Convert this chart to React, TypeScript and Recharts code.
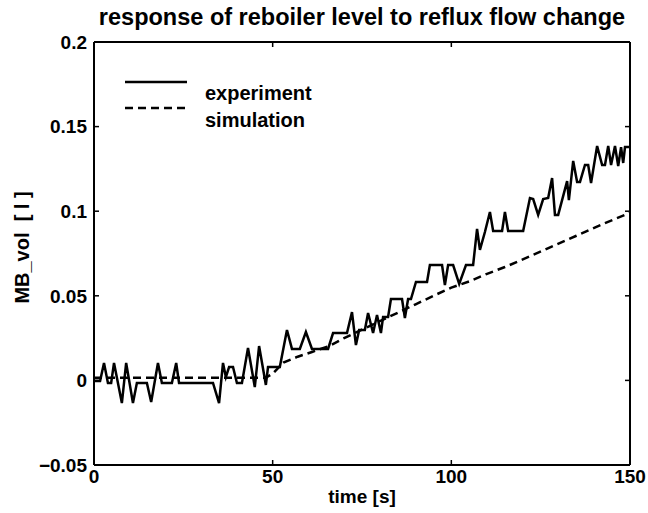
import React from 'react';
import { LineChart, Line, XAxis, YAxis } from 'recharts';

const expTimes = [0, 1.7, 2.8, 3.9, 4.8, 5.6, 7.8, 9.0, 10.9, 12.0, 14.8, 16.0, 17.9, 19.0, 21.8, 23.0, 23.8, 33.3, 35.0, 36.1, 36.9, 37.8, 38.9, 40.0, 41.4, 43.1, 45.0, 46.2, 48.1, 48.7, 52.0, 54.0, 55.4, 57.6, 59.3, 61.0, 65.5, 66.9, 70.8, 72.2, 73.3, 74.2, 75.8, 76.7, 78.1, 79.2, 80.3, 80.9, 82.3, 83.1, 86.2, 87.0, 87.9, 88.7, 90.1, 93.2, 94.0, 97.4, 98.2, 99.1, 100.5, 102.2, 104.1, 106.1, 107.2, 108.0, 109.4, 110.8, 111.7, 114.2, 115.0, 115.9, 120.1, 122.0, 122.9, 124.3, 125.7, 127.1, 128.2, 129.0, 129.9, 132.4, 132.9, 134.1, 135.2, 136.0, 137.4, 138.3, 139.1, 140.8, 142.2, 143.0, 143.9, 144.7, 145.8, 146.7, 147.5, 148.1, 148.6, 150];
const expValues = [-0.0004, -0.0004, 0.0103, -0.0015, -0.0015, 0.0103, -0.0134, 0.0103, -0.0134, -0.0015, -0.0015, -0.0128, 0.0103, -0.0015, -0.0015, 0.0103, -0.0015, -0.0015, -0.0134, 0.0103, 0.002, 0.0079, 0.0079, -0.0015, -0.0015, 0.0191, -0.0039, 0.0203, -0.0027, 0.0079, 0.0079, 0.0298, 0.0186, 0.0186, 0.0286, 0.0186, 0.0186, 0.028, 0.028, 0.0404, 0.0209, 0.0298, 0.0298, 0.0398, 0.028, 0.0387, 0.028, 0.0375, 0.0375, 0.0481, 0.0481, 0.0369, 0.0481, 0.0481, 0.0582, 0.0582, 0.0682, 0.0682, 0.0564, 0.0682, 0.0682, 0.057, 0.0682, 0.0682, 0.0895, 0.0771, 0.0877, 0.0995, 0.0883, 0.0883, 0.0995, 0.0883, 0.0883, 0.1078, 0.1072, 0.0978, 0.1072, 0.1078, 0.1196, 0.0978, 0.0978, 0.1178, 0.1066, 0.1297, 0.1173, 0.1173, 0.1273, 0.1273, 0.1167, 0.1385, 0.1273, 0.1273, 0.1385, 0.1273, 0.1385, 0.1267, 0.1379, 0.1285, 0.1379, 0.1379];

const simTimes = [0, 48, 50, 53, 57, 61, 66, 70, 75, 80, 85, 90, 95, 100, 105, 110, 115, 120, 127, 135, 143, 150];
const simValues = [0.0015, 0.0015, 0.004, 0.0105, 0.014, 0.0168, 0.0205, 0.025, 0.030, 0.035, 0.040, 0.045, 0.050, 0.0548, 0.0585, 0.063, 0.067, 0.0715, 0.078, 0.0855, 0.093, 0.099];

const xTicks = [0, 50, 100, 150];
const yTicks = [-0.05, 0, 0.05, 0.1, 0.15, 0.2];
const yTickLabels = ['\u22120.05', '0', '0.05', '0.1', '0.15', '0.2'];

const titleText = 'response of reboiler level to reflux flow change';
const xLabelText = 'time [s]';
const yLabelText = 'MB_vol\u00a0\u00a0[ l ]';
const seriesNames = ['experiment', 'simulation'];

const expData = expTimes.map((t, i) => ({ t, v: expValues[i] }));
const simData = simTimes.map((t, i) => ({ t, v: simValues[i] }));

const FONT = '"Liberation Sans", Arial, Helvetica, sans-serif';
const tickStyle = { fill: '#000', fontSize: 19, fontWeight: 700, fontFamily: FONT };

const fmtY = (v: number) => {
  const idx = yTicks.findIndex((y) => Math.abs(y - v) < 1e-9);
  return idx >= 0 ? yTickLabels[idx] : String(v);
};

export default function App() {
  return (
    <div style={{ position: 'absolute', left: 0, top: 0, width: 648, height: 513, background: '#fff' }}>
      <LineChart width={648} height={513} margin={{ top: 41, right: 17, bottom: 0, left: 0 }}>
        <XAxis
          xAxisId="b"
          dataKey="t"
          type="number"
          domain={[0, 150]}
          ticks={xTicks}
          allowDataOverflow
          height={48}
          axisLine={{ stroke: '#000', strokeWidth: 2 }}
          tickLine={{ stroke: '#000', strokeWidth: 1.5 }}
          tickSize={-5}
          tickMargin={10}
          tick={tickStyle}
          interval={0}
          label={{
            content: (p: any) => {
              const vb = p.viewBox || { x: 94, y: 465, width: 536, height: 48 };
              return (
                <text x={vb.x + vb.width / 2} y={vb.y + 38} textAnchor="middle" fill="#000"
                  style={{ fontSize: 19, fontWeight: 700, fontFamily: FONT }}>
                  {xLabelText}
                </text>
              );
            },
          }}
        />
        <XAxis
          xAxisId="t"
          orientation="top"
          type="number"
          dataKey="t"
          domain={[0, 150]}
          ticks={xTicks}
          allowDataOverflow
          height={1}
          axisLine={{ stroke: '#000', strokeWidth: 2 }}
          tickLine={{ stroke: '#000', strokeWidth: 1.5 }}
          tickSize={-5}
          tickFormatter={() => ''}
          interval={0}
        />
        <YAxis
          yAxisId="l"
          type="number"
          domain={[-0.05, 0.2]}
          ticks={yTicks}
          allowDataOverflow
          width={94}
          axisLine={{ stroke: '#000', strokeWidth: 2 }}
          tickLine={{ stroke: '#000', strokeWidth: 1.5 }}
          tickSize={-5}
          tickMargin={12}
          tick={tickStyle}
          tickFormatter={fmtY}
          interval={0}
          label={{
            content: (p: any) => {
              const vb = p.viewBox || { x: 0, y: 42, width: 94, height: 423 };
              const cx = vb.x + 22;
              const cy = vb.y + vb.height / 2 - 6;
              return (
                <text x={cx} y={cy} textAnchor="middle" dominantBaseline="central" fill="#000"
                  transform={`rotate(-90, ${cx}, ${cy})`}
                  style={{ fontSize: 20, fontWeight: 700, fontFamily: FONT }}>
                  {yLabelText}
                </text>
              );
            },
          }}
        />
        <YAxis
          yAxisId="r"
          orientation="right"
          type="number"
          domain={[-0.05, 0.2]}
          ticks={yTicks}
          allowDataOverflow
          width={1}
          axisLine={{ stroke: '#000', strokeWidth: 2 }}
          tickLine={{ stroke: '#000', strokeWidth: 1.5 }}
          tickSize={-5}
          tickFormatter={() => ''}
          interval={0}
        />
        <Line
          xAxisId="t"
          yAxisId="r"
          data={simData}
          dataKey="v"
          type="linear"
          stroke="#000"
          strokeWidth={2.5}
          strokeDasharray="8 5"
          dot={false}
          activeDot={false}
          isAnimationActive={false}
        />
        <Line
          xAxisId="b"
          yAxisId="l"
          data={expData}
          dataKey="v"
          type="linear"
          stroke="#000"
          strokeWidth={2.5}
          strokeLinejoin="miter"
          dot={false}
          activeDot={false}
          isAnimationActive={false}
        />
      </LineChart>
      <svg width={648} height={513} style={{ position: 'absolute', left: 0, top: 0, pointerEvents: 'none' }}>
        <text x={362} y={25} textAnchor="middle" fill="#000"
          style={{ fontSize: 23.5, fontWeight: 700, fontFamily: FONT }}>
          {titleText}
        </text>
        <line x1={125} y1={82} x2={187} y2={82} stroke="#000" strokeWidth={2.5} />
        <line x1={125} y1={108} x2={187} y2={108} stroke="#000" strokeWidth={2.5} strokeDasharray="8 5" />
        <text x={205} y={100} fill="#000" style={{ fontSize: 20, fontWeight: 700, fontFamily: FONT }}>
          {seriesNames[0]}
        </text>
        <text x={205} y={127} fill="#000" style={{ fontSize: 20, fontWeight: 700, fontFamily: FONT }}>
          {seriesNames[1]}
        </text>
      </svg>
    </div>
  );
}
